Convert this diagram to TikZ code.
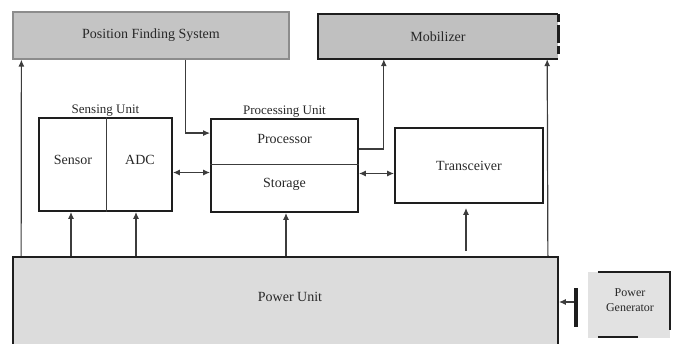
\documentclass[tikz,border=0pt]{standalone}
\usepackage{fontspec}
\setmainfont{Liberation Serif}
\usetikzlibrary{arrows.meta,calc}
\definecolor{pfsfill}{RGB}{196,196,196}
\definecolor{pfsline}{RGB}{140,140,140}
\definecolor{mobfill}{RGB}{192,192,192}
\definecolor{pwrfill}{RGB}{220,220,220}
\definecolor{genfill}{RGB}{226,226,226}
\definecolor{boxline}{RGB}{30,30,30}
\definecolor{conn}{RGB}{60,60,60}
\definecolor{txt}{RGB}{40,40,40}
\tikzset{
  blk/.style={draw=boxline, line width=1.8pt, inner sep=0pt, font=\fontsize{14}{16}\selectfont, text=txt},
  arr/.style={draw=conn, line width=1.2pt, -{Latex[length=7pt,width=6pt]}},
  darr/.style={draw=conn, line width=1.2pt, {Latex[length=7pt,width=6pt]}-{Latex[length=7pt,width=6pt]}},
  lbl/.style={font=\fontsize{13}{15}\selectfont, text=txt, inner sep=1pt},
  big/.style={font=\fontsize{14}{16}\selectfont},
}
\begin{document}
\begin{tikzpicture}[x=1pt,y=-1pt]
\useasboundingbox (0,0) rectangle (673,344);
% top boxes
\node[blk, draw=pfsline, line width=1.2pt, fill=pfsfill, minimum width=276pt, minimum height=47pt] (pfs) at (151,35.5) {Position Finding System};
\node[inner sep=0pt, fill=mobfill, minimum width=240pt, minimum height=45pt, big, text=txt] (mob) at (438,36.5) {Mobilizer};
\draw[boxline, line width=1.8pt] (mob.north east) -- (mob.north west) -- (mob.south west) -- (mob.south east);
\draw[boxline, line width=3pt, dash pattern=on 8pt off 3pt on 18pt off 3pt on 8pt off 10pt] (mob.north east) -- (mob.south east);
% sensing unit
\node[blk, minimum width=133pt, minimum height=93pt, label={[lbl]above:Sensing Unit}] (sense) at (105.5,164.5) {};
\draw[conn, line width=1pt] ([xshift=68pt]sense.north west) -- ([xshift=68pt]sense.south west);
\node[lbl, big] (sensor) at (73,160) {Sensor};
\node[lbl, big] (adc) at (140,160) {ADC};
% processing unit
\node[blk, minimum width=147pt, minimum height=93pt, label={[lbl]above:Processing Unit}] (proc) at (284.5,165.5) {};
\draw[conn, line width=1pt] ([yshift=-46pt]proc.north west) -- ([yshift=-46pt]proc.north east);
\node[lbl, big] (cpu) at (284.5,139) {Processor};
\node[lbl, big] (stor) at (284.5,184) {Storage};
% transceiver
\node[blk, minimum width=148pt, minimum height=75pt] (trans) at (469,165.5) {Transceiver};
% power unit
\node[blk, fill=pwrfill, minimum width=545pt, minimum height=95pt] (pwr) at (285.5,304.5) {};
\node[lbl, big] (pwrtxt) at (290,297) {Power Unit};
% power generator
\node[fill=genfill, minimum width=82pt, minimum height=66pt, inner sep=0pt] (gen) at (629,305) {};
\draw[boxline, line width=1.8pt] ([xshift=10pt]gen.north west) -- (gen.north east) -- ([yshift=8pt]gen.south east);
\draw[boxline, line width=1.8pt] ([xshift=10pt,yshift=1pt]gen.south west) -- ([xshift=50pt,yshift=1pt]gen.south west);
\node[lbl, font=\fontsize{12}{15}\selectfont, align=center] (gentxt) at (630,300) {Power\\Generator};
\node[fill=boxline, minimum width=3.5pt, minimum height=39pt, inner sep=0pt] (bar) at (576,307.5) {};
% connectors
\draw[arr] ([xshift=9pt]pwr.north west) -- ([xshift=9pt]pfs.south west);
\draw[arr] ([xshift=-11pt]pwr.north east) -- ([xshift=-11pt]mob.south east);
\draw[arr] ([xshift=173pt]pfs.south west) |- ([yshift=-15pt]proc.north west);
\draw[arr] ([yshift=-31pt]proc.north east) -| ([xshift=66pt]mob.south west);
\draw[darr] ([yshift=-8pt]sense.east) -- ([yshift=-8pt]sense.east -| proc.west);
\draw[darr] ([yshift=-8pt]proc.east) -- ([yshift=-8pt]proc.east -| trans.west);
\draw[arr] ([xshift=-2pt]pwr.north -| sensor) -- ([xshift=-2pt]sense.south -| sensor);
\draw[arr] ([xshift=-4pt]pwr.north -| adc) -- ([xshift=-4pt]sense.south -| adc);
\draw[arr] ([xshift=1.5pt]pwr.north -| proc.south) -- ([xshift=1.5pt]proc.south);
\draw[arr, shorten <=5pt, shorten >=4pt] ([xshift=-3pt]pwr.north -| trans.south) -- ([xshift=-3pt]trans.south);
\draw[arr] ([yshift=5.5pt]bar.west) -- ([yshift=5.5pt]bar.west -| pwr.east);
\end{tikzpicture}
\end{document}
